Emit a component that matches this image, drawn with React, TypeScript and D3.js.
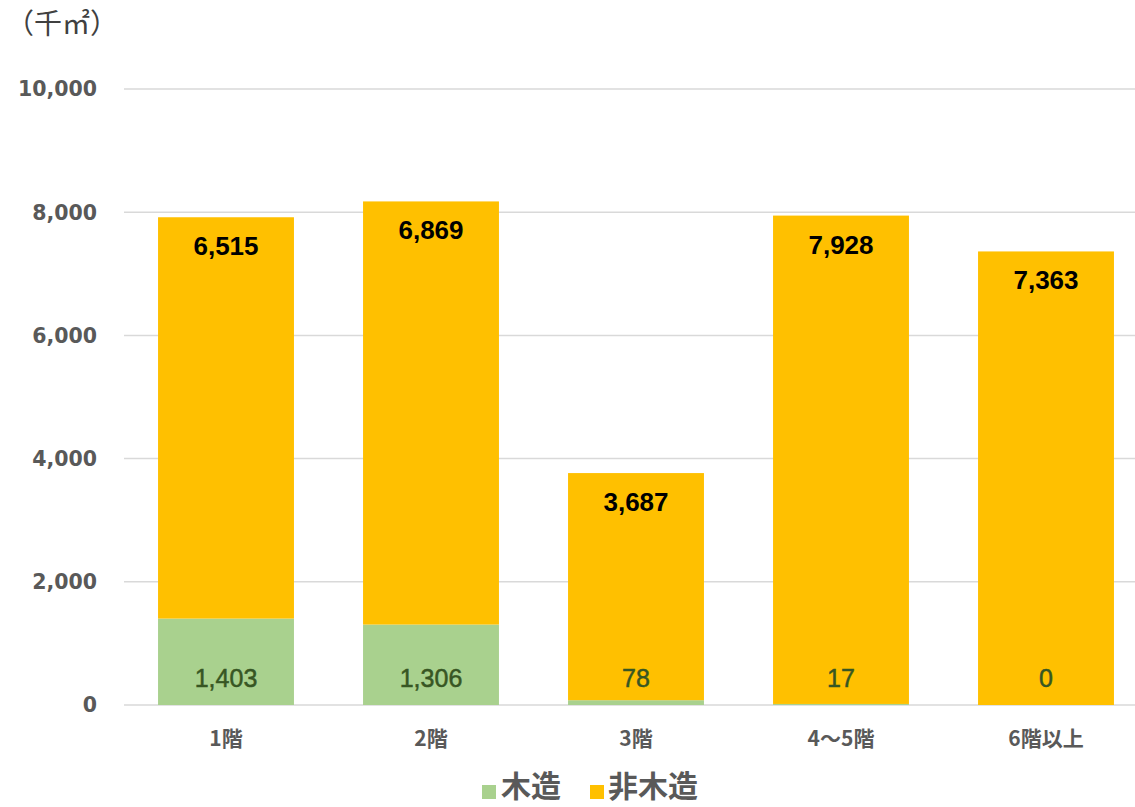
import React from "react";
import * as d3 from "d3";

const categories = ["1階", "2階", "3階", "4～5階", "6階以上"];
const woodValues = [1403, 1306, 78, 17, 0];
const nonWoodValues = [6515, 6869, 3687, 7928, 7363];
const yTicks = [0, 2000, 4000, 6000, 8000, 10000];
const seriesNames = ["木造", "非木造"];
const unitLabel = "（千㎡）";

const W = 1135;
const H = 807;
const FONT = "'Liberation Sans', 'Noto Sans CJK JP', sans-serif";
const TFONT = "'DejaVu Sans', 'Noto Sans CJK JP', sans-serif";
const JFONT = "'Noto Sans CJK JP', 'Liberation Sans', sans-serif";

export default function App() {
  const x = d3.scaleBand<string>().domain(categories).range([123.5, 1148.5]).paddingInner(0.337).paddingOuter(0.1685);
  const y = d3.scaleLinear().domain([0, 10000]).range([705, 89]);
  const fmt = d3.format(",");
  const green = "#A9D18E";
  const orange = "#FFC000";

  return (
    <svg width={W} height={H} style={{ position: "absolute", left: 0, top: 0, background: "#fff" }}>
      {yTicks.map((t) => (
        <g key={t}>
          <line x1={124} x2={W} y1={y(t)} y2={y(t)} stroke="#D9D9D9" strokeWidth={1.5} />
          <text x={97} y={y(t)} dy="0.36em" textAnchor="end" fontFamily={TFONT} fontSize={20.5} fontWeight="bold" fill="#595959">
            {fmt(t)}
          </text>
        </g>
      ))}
      {categories.map((c, i) => {
        const bx = x(c)!;
        const bw = x.bandwidth();
        const w = woodValues[i];
        const n = nonWoodValues[i];
        return (
          <g key={c}>
            <rect x={bx} width={bw} y={y(w)} height={y(0) - y(w)} fill={green} />
            <rect x={bx} width={bw} y={y(w + n)} height={y(w) - y(w + n)} fill={orange} />
            <text x={bx + bw / 2} y={y(0) - 18} textAnchor="middle" fontFamily={FONT} fontSize={25} fill="#375623" stroke="#375623" strokeWidth={0.5}>
              {fmt(w)}
            </text>
            <text x={bx + bw / 2} y={y(w + n) + 38} textAnchor="middle" fontFamily={FONT} fontSize={26} fontWeight="bold" fill="#000">
              {fmt(n)}
            </text>
            <text x={bx + bw / 2} y={746} textAnchor="middle" fontFamily={JFONT} fontSize={21} fontWeight="bold" fill="#595959">
              {c}
            </text>
          </g>
        );
      })}
      <text x={6} y={34} fontFamily={JFONT} fontSize={28} fill="#404040">
        {unitLabel}
      </text>
      <g>
        <rect x={482} y={785} width={14} height={14} fill={green} />
        <text x={501} y={797} fontFamily={JFONT} fontSize={30} fontWeight="bold" fill="#595959">
          {seriesNames[0]}
        </text>
        <rect x={590} y={785} width={14} height={14} fill={orange} />
        <text x={608} y={797} fontFamily={JFONT} fontSize={30} fontWeight="bold" fill="#595959">
          {seriesNames[1]}
        </text>
      </g>
    </svg>
  );
}
